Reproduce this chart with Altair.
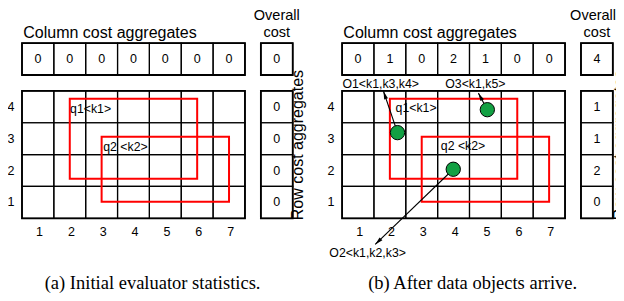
import math
import altair as alt
import pandas as pd

# ---------------- data ----------------
COLS = [1, 2, 3, 4, 5, 6, 7]
ROWS = [4, 3, 2, 1]
PANELS = ["a", "b"]
COL_AGG_A = [0, 0, 0, 0, 0, 0, 0]
COL_AGG_B = [0, 1, 0, 2, 1, 0, 0]
ROW_AGG_A = [0, 0, 0, 0]          # rows 4, 3, 2, 1
ROW_AGG_B = [1, 1, 2, 0]
OVERALL_COST = [0, 4]
CAPTIONS = ["(a) Initial evaluator statistics.", "(b) After data objects arrive."]

QUERY_LABELS = ["q1<k1>", "q2 <k2>"]
QUERY_COL_FROM = [1.5, 2.5]
QUERY_COL_TO = [5.5, 6.5]
QUERY_ROW_FROM = [1.24, 0.52]
QUERY_ROW_TO = [3.75, 2.56]

OBJ_LABELS = ["O1<k1,k3,k4>", "O2<k1,k2,k3>", "O3<k1,k5>"]
OBJ_COL = [1.74, 3.49, 4.56]
OBJ_ROW = [2.69, 1.54, 3.41]

# ---------------- layout ----------------
U = 31.85                      # pixels per grid cell
W, H = 608, 285
X0, Y0 = 14.0, 210.3           # plot position of grid origin (panel a)
OFF = {"a": 0.0, "b": 10.05}   # panel offsets in cells
QLABEL_POS = {"a": [(1.51, 3.43), (2.55, 2.25)], "b": [(1.68, 3.45), (3.10, 2.27)]}
OVERALL_X = {"a": 8.0, "b": 7.88}
ROWTITLE_X = {"a": 8.82, "b": 8.87}
OBJ_TIP = [(1.30, 3.99), (1.04, -0.82), (4.28, 3.93)]
OBJ_LABEL_POS = [(0.01, 4.21), (-0.40, -1.10), (3.24, 4.21)]
SANS = "Liberation Sans"
SERIF = "Liberation Serif"
GREEN = "#12a043"

XS = alt.Scale(domain=[-X0 / U, (W - X0) / U], nice=False, zero=False)
YS = alt.Scale(domain=[(Y0 - H) / U, Y0 / U], nice=False, zero=False)

col_agg = {"a": COL_AGG_A, "b": COL_AGG_B}
row_agg = {"a": ROW_AGG_A, "b": ROW_AGG_B}

cells, frames, values, row_lbl, col_lbl, titles, overall_t, rowtitle, caps = [], [], [], [], [], [], [], [], []
queries, qlabels = [], []
for pi, p in enumerate(PANELS):
    o = OFF[p]
    for ci, c in enumerate(COLS):
        for r in ROWS:
            cells.append(dict(x=o + c - 1, x2=o + c, y=r - 1, y2=r))
        cells.append(dict(x=o + c - 1, x2=o + c, y=4.5, y2=5.5))
        values.append(dict(x=o + c - 0.5, y=5.0, t=str(col_agg[p][ci])))
        col_lbl.append(dict(x=o + c - 0.45, y=-0.43, t=str(c)))
    for ri, r in enumerate(ROWS):
        cells.append(dict(x=o + 7.5, x2=o + 8.5, y=r - 1, y2=r))
        values.append(dict(x=o + 8.0, y=r - 0.5, t=str(row_agg[p][ri])))
        row_lbl.append(dict(x=o - 0.35, y=r - 0.5, t=str(r)))
    cells.append(dict(x=o + 7.5, x2=o + 8.5, y=4.5, y2=5.5))
    values.append(dict(x=o + 8.0, y=5.0, t=str(OVERALL_COST[pi])))
    frames += [dict(x=o, x2=o + 7, y=0, y2=4), dict(x=o, x2=o + 7, y=4.5, y2=5.5),
               dict(x=o + 7.5, x2=o + 8.5, y=4.5, y2=5.5), dict(x=o + 7.5, x2=o + 8.5, y=0, y2=4)]
    titles.append(dict(x=o + 0.04, y=5.66, t="Column cost aggregates"))
    overall_t += [dict(x=o + OVERALL_X[p], y=6.226, t="Overall"), dict(x=o + 8.0, y=5.692, t="cost")]
    rowtitle.append(dict(x=o + ROWTITLE_X[p], y=-0.06, t="Row cost aggregates"))
    caps.append(dict(x=o + 4.1, y=-2.22, t=CAPTIONS[pi]))
    for qi, q in enumerate(QUERY_LABELS):
        queries.append(dict(x=o + QUERY_COL_FROM[qi], x2=o + QUERY_COL_TO[qi],
                            y=QUERY_ROW_FROM[qi], y2=QUERY_ROW_TO[qi]))
        lx, ly = QLABEL_POS[p][qi]
        qlabels.append(dict(x=o + lx, y=ly, t=q))

ob = OFF["b"]
objs, arrows, heads, olabels = [], [], [], []
HEAD_PX = 4.0
for i, lab in enumerate(OBJ_LABELS):
    sx, sy = ob + OBJ_COL[i], OBJ_ROW[i]
    tx, ty = ob + OBJ_TIP[i][0], OBJ_TIP[i][1]
    objs.append(dict(x=sx, y=sy))
    arrows.append(dict(x=sx, y=sy, x2=tx, y2=ty))
    dx, dy = tx - sx, ty - sy
    n = math.hypot(dx, dy)
    ang = math.degrees(math.atan2(dx, dy)) % 360
    hx, hy = tx - dx / n * HEAD_PX / U, ty - dy / n * HEAD_PX / U
    heads.append(dict(x=hx, y=hy, a=ang))
    olabels.append(dict(x=ob + OBJ_LABEL_POS[i][0], y=OBJ_LABEL_POS[i][1], t=lab))


def xy():
    return dict(x=alt.X("x:Q", scale=XS, axis=None), y=alt.Y("y:Q", scale=YS, axis=None))


def rect_layer(rows, **kw):
    df = pd.DataFrame(rows)
    return alt.Chart(df).mark_rect(fill="white", fillOpacity=0, **kw).encode(
        x=alt.X("x:Q", scale=XS, axis=None), x2="x2:Q",
        y=alt.Y("y:Q", scale=YS, axis=None), y2="y2:Q")


def text_layer(rows, **kw):
    df = pd.DataFrame(rows)
    return alt.Chart(df).mark_text(color="black", **kw).encode(text="t:N", **xy())


layers = [
    rect_layer(cells, stroke="black", strokeWidth=1.2),
    rect_layer(frames, stroke="black", strokeWidth=1.8),
    rect_layer(queries, stroke="#ff0000", strokeWidth=2),
    text_layer(values, font=SANS, fontSize=12.5, align="center", baseline="middle"),
    text_layer(row_lbl, font=SANS, fontSize=12.5, align="center", baseline="middle"),
    text_layer(col_lbl, font=SANS, fontSize=12.5, align="center", baseline="middle"),
    text_layer(qlabels, font=SANS, fontSize=12.3, align="left", baseline="middle"),
    text_layer(titles, font=SANS, fontSize=16, align="left", baseline="alphabetic"),
    text_layer(overall_t, font=SANS, fontSize=14.5, align="center", baseline="alphabetic"),
    text_layer(rowtitle, font=SANS, fontSize=16, align="left", baseline="alphabetic", angle=270),
    text_layer(caps, font=SERIF, fontSize=18.5, align="center", baseline="alphabetic"),
    text_layer(olabels, font=SANS, fontSize=12.3, align="left", baseline="middle"),
    alt.Chart(pd.DataFrame(arrows)).mark_rule(color="black", strokeWidth=1.1).encode(
        x=alt.X("x:Q", scale=XS, axis=None), x2="x2:Q",
        y=alt.Y("y:Q", scale=YS, axis=None), y2="y2:Q"),
    alt.Chart(pd.DataFrame(heads)).mark_point(
        shape="M0,-1L-0.5,1L0.5,1Z", filled=True, color="black", opacity=1, size=64
    ).encode(angle=alt.Angle("a:Q", scale=None), **xy()),
    alt.Chart(pd.DataFrame(objs)).mark_circle(
        size=205, color=GREEN, opacity=1, stroke="black", strokeWidth=1
    ).encode(**xy()),
]

chart = alt.layer(*layers).properties(
    width=W, height=H, padding=0, autosize=alt.AutoSizeParams(type="none")
).configure_view(stroke=None)

chart.save("out.html", embed_options={"renderer": "svg", "actions": False})
